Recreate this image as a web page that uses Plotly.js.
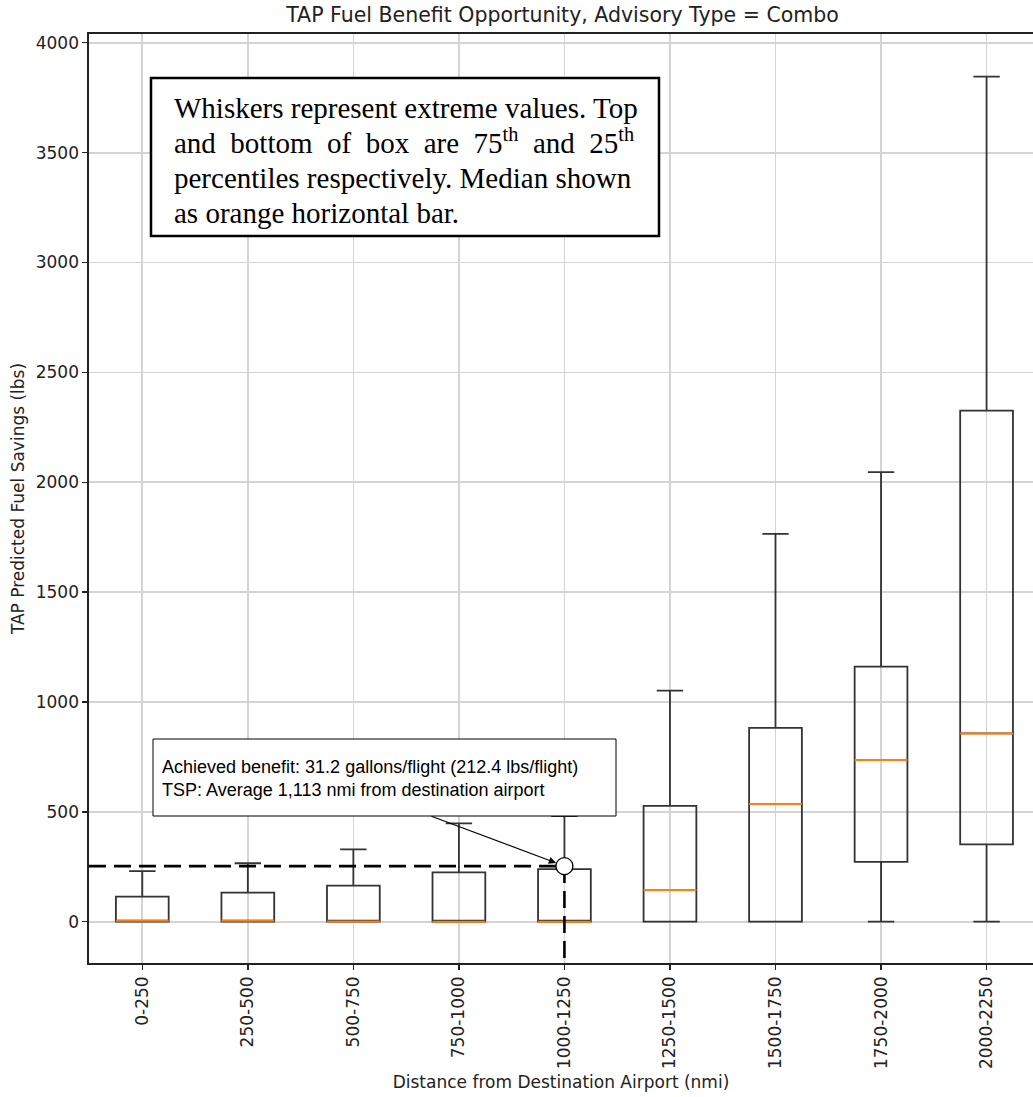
<!DOCTYPE html>
<html>
<head>
<meta charset="utf-8">
<script src="https://cdn.plot.ly/plotly-3.0.1.min.js"></script>
<style>html,body{margin:0;padding:0;overflow:hidden;background:#fff}</style>
</head>
<body>
<div id="chart" style="width:1033px;height:1097px"></div>
<script>
// ---- data ----
const categories = ['0-250','250-500','500-750','750-1000','1000-1250','1250-1500','1500-1750','1750-2000','2000-2250'];
const whiskerLow  = [0, 0, 0, 0, 0, 0, 0, 0, 0];
const q1          = [0, 0, 0, 0, 0, 0, 0, 272, 352];
const medians     = [4, 4, 1, 0, 0, 144, 536, 736, 857];
const q3          = [114, 132, 164, 224, 239, 527, 882, 1161, 2326];
const whiskerHigh = [230, 266, 329, 447, 480, 1052, 1765, 2046, 3846];
const yTicks = [0, 500, 1000, 1500, 2000, 2500, 3000, 3500, 4000];

const achievedBenefitLbs = 253;    // dashed horizontal reference level
const tspCategoryIndex = 4;        // 1000-1250 bin (average 1,113 nmi)

const chartTitle = 'TAP Fuel Benefit Opportunity, Advisory Type = Combo';
const xTitle = 'Distance from Destination Airport (nmi)';
const yTitle = 'TAP Predicted Fuel Savings (lbs)';
const noteLines = [
  'Whiskers represent extreme values. Top',
  'and&#160; bottom&#160; of&#160; box&#160; are&#160; 75<sup>th</sup>&#160; and&#160; 25<sup>th</sup>',
  'percentiles respectively. Median shown',
  'as orange horizontal bar.'
];
const calloutText = 'Achieved benefit: 31.2 gallons/flight (212.4 lbs/flight)<br>TSP: Average 1,113 nmi from destination airport';

// ---- geometry helpers (layout only) ----
const W = 1033, H = 1097;
const M = {l: 89, r: 0, t: 34, b: 134};
const PW = W - M.l - M.r, PH = H - M.t - M.b;
const px2x = p => (p - M.l) / PW;
const px2y = p => (H - M.b - p) / PH;

const idx = categories.map((_, i) => i);
const BOX_W = 0.5;

const boxTrace = {
  type: 'box',
  x: idx,
  q1: q1, median: medians, q3: q3,
  lowerfence: whiskerLow, upperfence: whiskerHigh,
  width: BOX_W,
  whiskerwidth: 0.5,
  boxpoints: false,
  fillcolor: 'rgba(0,0,0,0)',
  line: {color: '#333333', width: 1.8},
  hoverinfo: 'skip',
  showlegend: false
};

const medX = [], medY = [];
idx.forEach(i => {
  medX.push(i - BOX_W / 2, i + BOX_W / 2, null);
  medY.push(medians[i], medians[i], null);
});
const medianTrace = {
  type: 'scatter', mode: 'lines', x: medX, y: medY,
  line: {color: '#ff7f0e', width: 2}, hoverinfo: 'skip', showlegend: false
};

const xMin = -0.505, xMax = 8.44, yMin = -188, yMax = 4040;

const dashH = {
  type: 'scatter', mode: 'lines',
  x: [xMin, tspCategoryIndex], y: [achievedBenefitLbs, achievedBenefitLbs],
  line: {color: '#000', width: 2.6, dash: '17px,8px'}, hoverinfo: 'skip', showlegend: false
};
const dashV = {
  type: 'scatter', mode: 'lines',
  x: [tspCategoryIndex, tspCategoryIndex], y: [achievedBenefitLbs, yMin],
  line: {color: '#000', width: 2.6, dash: '17px,8px'}, hoverinfo: 'skip', showlegend: false
};
const marker = {
  type: 'scatter', mode: 'markers',
  x: [tspCategoryIndex], y: [achievedBenefitLbs],
  marker: {size: 17, color: '#fff', line: {color: '#000', width: 1.3}},
  hoverinfo: 'skip', showlegend: false
};

const axisFont = {family: 'DejaVu Sans', size: 17, color: '#222'};

const noteY = [108, 141, 178, 213];
const annotations = noteLines.map((t, k) => ({
  xref: 'paper', yref: 'paper', x: px2x(172), y: px2y(noteY[k]),
  xanchor: 'left', yanchor: 'middle', align: 'left', showarrow: false,
  text: t, font: {family: 'Liberation Serif', size: 29, color: '#000'}
}));
annotations.push({
  xref: 'paper', yref: 'paper', x: px2x(160), y: px2y(778),
  xanchor: 'left', yanchor: 'middle', align: 'left', showarrow: false,
  text: calloutText, font: {family: 'Liberation Sans', size: 18, color: '#000'}
});
annotations.push({
  xref: 'x', yref: 'y', x: tspCategoryIndex, y: achievedBenefitLbs,
  ax: -136, ay: -51, axref: 'pixel', ayref: 'pixel',
  text: ' ', showarrow: true, arrowhead: 2, arrowsize: 1.3, arrowwidth: 1.1,
  arrowcolor: '#000', standoff: 9
});

const shapes = [
  {type: 'rect', xref: 'paper', yref: 'paper', layer: 'above',
   x0: px2x(151), x1: px2x(659), y0: px2y(78), y1: px2y(236),
   line: {color: '#000', width: 2.5}, fillcolor: '#fff'},
  {type: 'rect', xref: 'paper', yref: 'paper', layer: 'above',
   x0: px2x(153), x1: px2x(616), y0: px2y(739), y1: px2y(816),
   line: {color: '#000', width: 1}, fillcolor: '#fff'}
];

const layout = {
  width: W, height: H,
  margin: M,
  paper_bgcolor: '#fff', plot_bgcolor: '#fff',
  title: {text: chartTitle, font: {family: 'DejaVu Sans', size: 20.5, color: '#222'},
          xref: 'paper', x: px2x(562.5), xanchor: 'center',
          yref: 'container', y: 1 - 15 / H, yanchor: 'middle'},
  xaxis: {
    range: [xMin, xMax], tickvals: idx, ticktext: categories, tickangle: -90,
    showgrid: true, gridcolor: '#d4d4d4', gridwidth: 1.7, zeroline: false,
    showline: true, linecolor: '#222', linewidth: 1.6, mirror: true,
    ticks: 'outside', ticklen: 5, tickwidth: 1.4, tickcolor: '#222',
    tickfont: axisFont, automargin: false,
    title: {text: xTitle, font: axisFont, standoff: 8}
  },
  yaxis: {
    range: [yMin, yMax], tickvals: yTicks,
    showgrid: true, gridcolor: '#d4d4d4', gridwidth: 1.7, zeroline: false,
    showline: true, linecolor: '#222', linewidth: 1.6, mirror: false,
    ticks: 'outside', ticklen: 5, tickwidth: 1.4, tickcolor: '#222',
    tickfont: axisFont, automargin: false,
    title: {text: yTitle, font: axisFont, standoff: 7}
  },
  shapes: shapes,
  annotations: annotations,
  showlegend: false
};

Plotly.newPlot('chart', [boxTrace, medianTrace, dashH, dashV, marker], layout, {staticPlot: true, displayModeBar: false});
</script>
</body>
</html>
